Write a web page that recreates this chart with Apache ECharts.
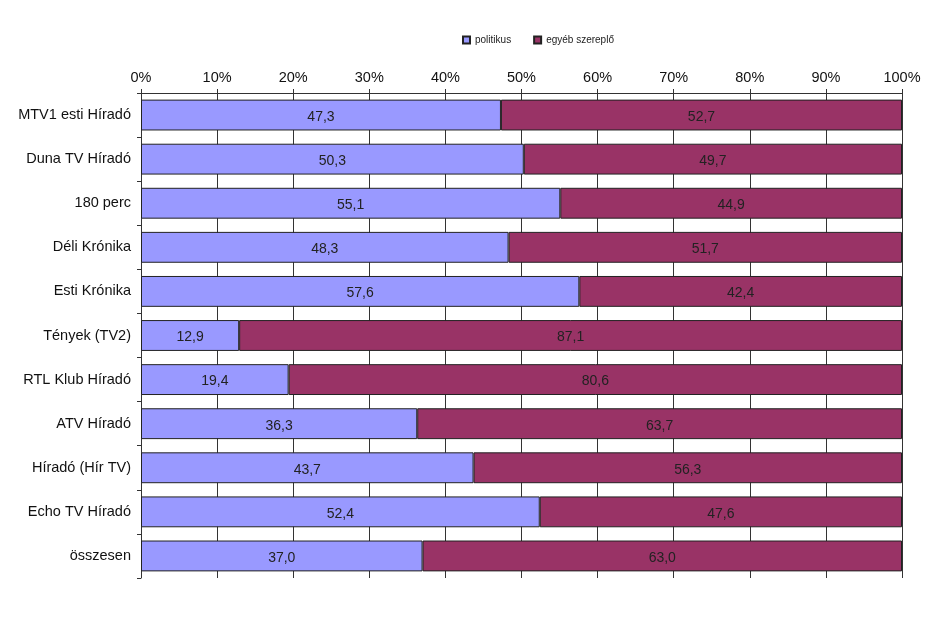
<!DOCTYPE html>
<html><head><meta charset="utf-8">
<script src="https://cdn.jsdelivr.net/npm/echarts@6/dist/echarts.min.js"></script>
<style>html,body{margin:0;padding:0;background:#fff}#c{width:944px;height:618px}</style>
</head><body><div id="c"></div>
<script>
const categories = ["MTV1 esti Híradó","Duna TV Híradó","180 perc","Déli Krónika","Esti Krónika","Tények (TV2)","RTL Klub Híradó","ATV Híradó","Híradó (Hír TV)","Echo TV Híradó","összesen"];
const politikus = [47.3,50.3,55.1,48.3,57.6,12.9,19.4,36.3,43.7,52.4,37.0];
const egyeb = [52.7,49.7,44.9,51.7,42.4,87.1,80.6,63.7,56.3,47.6,63.0];
const xTicks = [0,10,20,30,40,50,60,70,80,90,100];

const fmt = p => p.value.toFixed(1).replace('.', ',');
const chart = echarts.init(document.getElementById('c'));
chart.setOption({
  animation: false,
  textStyle: {fontFamily: 'Liberation Sans, Arial, sans-serif'},
  legend: {
    top: 30, left: 457, itemWidth: 7, itemHeight: 7, itemGap: 22,
    textStyle: {fontSize: 10, color: '#222'},
    data: [{name: 'politikus', icon: 'rect'}, {name: 'egyéb szereplő', icon: 'rect'}]
  },
  grid: {left: 141, right: 42, top: 93, bottom: 40},
  xAxis: {
    type: 'value', position: 'top', min: 0, max: 100, interval: 10,
    axisLine: {show: true, lineStyle: {color: '#333'}},
    axisTick: {show: true, length: 4, lineStyle: {color: '#333'}},
    axisLabel: {formatter: v => xTicks.includes(v) ? v + '%' : '', fontSize: 14.5, color: '#111', margin: 8},
    splitLine: {show: true, lineStyle: {color: '#333', width: 1}}
  },
  yAxis: {
    type: 'category', data: categories, inverse: true,
    axisLine: {show: true, lineStyle: {color: '#333'}},
    axisTick: {show: true, length: 4, lineStyle: {color: '#333'}},
    axisLabel: {fontSize: 14.5, color: '#111', margin: 10, padding: [4, 0, 0, 0]}
  },
  series: [
    {name: 'politikus', type: 'bar', stack: 's', data: politikus, barWidth: '70%',
     itemStyle: {color: '#9999FF', borderColor: '#222', borderWidth: 1},
     label: {show: true, position: 'inside', offset: [0, 2], formatter: fmt, fontSize: 14, color: '#222'}},
    {name: 'egyéb szereplő', type: 'bar', stack: 's', data: egyeb, barWidth: '70%',
     itemStyle: {color: '#993366', borderColor: '#222', borderWidth: 1},
     label: {show: true, position: 'inside', offset: [0, 2], formatter: fmt, fontSize: 14, color: '#222'}}
  ]
});
</script></body></html>
